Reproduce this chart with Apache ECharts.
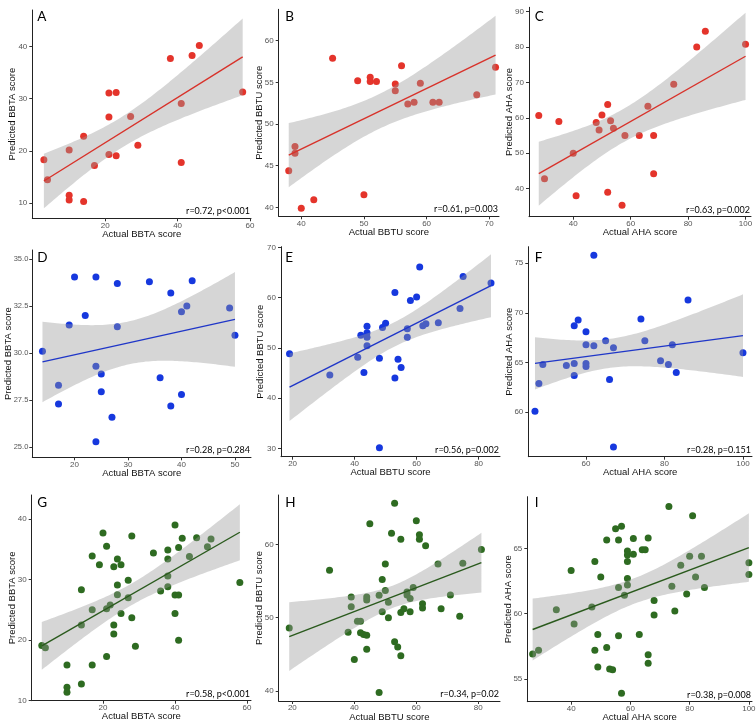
<!DOCTYPE html>
<html><head><meta charset="utf-8">
<script src="https://cdn.jsdelivr.net/npm/echarts@6/dist/echarts.min.js"></script>
<style>html,body{margin:0;padding:0;background:#fff}#c{width:756px;height:727px}</style>
</head><body><div id="c"></div>
<script>
// ---------------- DATA ----------------
const aX = [3,4,10,10,10,14,14,17,21,23,21,21,23,27,29,38,44,46,41,41,58];
const aY = [18.3,14.5,20.2,11.5,10.6,10.3,22.8,17.2,31.1,31.2,26.5,19.3,19.1,26.6,21.1,37.7,38.3,40.2,29.1,17.8,31.3];
const bX = [38,39,39,40,42,45,49,51,51,52,50,55,55,56,57,58,59,61,62,68,71];
const bY = [44.4,47.3,46.5,39.9,40.9,57.9,55.2,55.6,55.1,55.1,41.5,54.8,54.0,57.0,52.4,52.6,54.9,52.6,52.6,53.5,56.8];
const cX = [28,30,35,40,41,48,49,50,52,52,53,54,57,58,63,66,68,68,75,83,86,100];
const cY = [60.7,42.8,59.0,50.0,38.0,58.7,56.6,60.8,63.8,39.0,59.2,57.1,35.3,55.0,55.0,63.3,55.0,44.2,69.5,80.0,84.5,80.8];
const dX = [14,17,17,19,20,22,24,24,24,25,25,27,28,28,34,36,38,38,40,40,41,42,49,50];
const dY = [30.1,28.3,27.3,31.5,34.05,32.0,34.05,29.3,25.3,28.9,27.95,26.6,33.7,31.4,33.8,28.7,33.2,27.2,32.2,27.8,32.5,33.85,32.4,30.95];
const eX = [19,32,41,42,43,44,44,44,44,48,49,50,53,53,54,55,57,57,58,60,61,62,63,67,74,75,84,48];
const eY = [48.8,44.6,48.1,52.5,45.1,54.3,53.0,52.1,50.4,47.9,54.05,54.9,61.0,44.0,47.7,46.1,53.8,52.1,59.4,60.1,66.1,54.4,54.8,55.0,57.8,64.2,62.9,30.1];
const fX = [47,48,49,55,57,57,57,58,60,60,60,60,62,62,65,66,67,67,74,75,79,81,82,83,86,100];
const fY = [60.1,62.9,64.8,64.7,68.7,64.9,63.7,69.3,68.1,66.8,64.9,64.6,75.8,66.7,67.2,63.3,56.5,66.5,69.4,67.2,65.2,64.8,66.8,64.0,71.3,66.0];
const gX = [3,4,10,10,10,14,14,14,17,17,17,19,20,21,21,21,22,23,23,23,24,24,24,25,25,27,27,28,28,29,34,36,38,38,38,38,40,40,40,41,41,41,42,44,46,49,50,58];
const gY = [19.1,18.75,15.9,12.2,11.4,28.3,22.5,12.75,33.9,25.0,15.9,32.45,37.7,35.5,25.2,17.3,25.8,32.1,22.5,21.0,33.4,29.1,27.5,32.45,24.4,29.9,27.0,37.2,23.7,19.0,34.4,28.1,34.9,33.4,30.6,28.8,39.0,27.45,24.4,35.3,27.45,20.0,36.8,33.8,36.9,35.4,36.7,29.5];
const hX = [19,32,38,39,39,40,41,42,42,43,44,44,44,44,45,48,48,49,49,50,50,51,51,52,53,53,54,55,55,55,56,57,57,58,58,59,60,61,61,62,62,63,67,68,71,74,75,81];
const hY = [48.6,56.45,48.0,52.8,51.5,44.3,49.5,49.5,47.95,47.7,47.6,52.8,52.4,45.7,62.8,53.05,39.8,55.2,50.8,57.3,53.7,52.1,50.0,61.5,65.6,46.7,46.0,60.7,50.7,44.8,51.2,53.5,53.1,52.6,50.8,54.1,63.2,61.3,60.7,51.9,51.3,59.8,57.3,51.2,53.1,50.2,57.4,59.3];
const iX = [27,29,35,40,41,47,48,48,49,49,50,52,52,53,54,55,56,56,56,57,57,58,59,59,59,59,59,61,61,63,64,65,66,66,66,68,68,73,74,75,77,79,80,81,82,84,85,100,100];
const iY = [56.9,57.2,60.3,63.3,59.2,60.5,64.0,57.2,58.4,55.9,62.8,65.65,57.4,55.75,55.7,66.5,62.0,58.3,65.65,66.7,53.9,61.4,64.8,64.5,64.0,62.7,62.2,64.55,65.75,58.4,64.9,64.9,65.8,56.85,56.2,61.0,59.9,68.2,62.1,60.2,63.7,61.5,64.4,67.5,62.8,64.4,62.0,63.9,63.0];

const panelLetters = ['A','B','C','D','E','F','G','H','I'];
const statTexts = ['r=0.72, p<0.001','r=0.61, p=0.003','r=0.63, p=0.002',
                   'r=0.28, p=0.284','r=0.56, p=0.002','r=0.28, p=0.151',
                   'r=0.58, p<0.001','r=0.34, p=0.02','r=0.38, p=0.008'];
const xNames = ['Actual BBTA score','Actual BBTU score','Actual AHA score'];
const yNames = ['Predicted BBTA score','Predicted BBTU score','Predicted AHA score'];
const xTickVals = [[20,40,60],[40,50,60,70],[40,60,80,100],
                   [20,30,40,50],[20,40,60,80],[60,80,100],
                   [20,40,60],[20,40,60,80],[40,60,80,100]];
const yTickVals = [[10,20,30,40],[40,45,50,55,60],[40,50,60,70,80,90],
                   [25,27.5,30,32.5,35],[30,40,50,60,70],[60,65,70,75],
                   [10,20,30,40],[40,50,60],[55,60,65]];
const xs = [aX,bX,cX,dX,eX,fX,gX,hX,iX];
const ys = [aY,bY,cY,dY,eY,fY,gY,hY,iY];

// ---------------- LAYOUT / STYLE ----------------
// box: [left, top, right, bottom] in px; ranges: axis extents
const layout = [
  {box:[32.3,10,251,218.3],   xr:[-0.2,60.3], yr:[7.1,47.0], yGap:14.5},
  {box:[278.7,9.3,499,216.3], xr:[36.4,71.55], yr:[38.92,63.77], yGap:14},
  {box:[529,7.3,751,216.7],   xr:[24.6,101.9], yr:[32.09,91.24], yGap:14.5},
  {box:[32.3,250,251,457.3],  xr:[12.1,53.0], yr:[24.47,35.48], yGap:18.5},
  {box:[281,246.7,500,456.7], xr:[16.25,86.9], yr:[28.33,70.12], yGap:15.5},
  {box:[528.3,246.7,752,456.7], xr:[45.3,102.3], yr:[55.53,76.67], yGap:14},
  {box:[31.7,495,251,700.7],  xr:[0.2,61.1], yr:[10.0,43.96], yGap:14.5},
  {box:[278.7,495,500,701],   xr:[15.6,87.0], yr:[38.64,66.72], yGap:14},
  {box:[527.3,496.7,752,701.7], xr:[25.2,101.05], yr:[53.25,68.96], yGap:13.5}
];
const colors = [
  {pt:'#e4342b', ln:'#d8322a'},
  {pt:'#1638de', ln:'#1f36c8'},
  {pt:'#2e6b21', ln:'#2a5a1d'}
];
const FONT = '"Liberation Sans", Arial, sans-serif';

// ---------------- STATS (lm + 95% CI like geom_smooth) ----------------
function tq975(df){
  const z=1.959964, z3=z*z*z, z5=z3*z*z, z7=z5*z*z;
  return z + (z3+z)/(4*df) + (5*z5+16*z3+3*z)/(96*df*df) + (3*z7+19*z5+17*z3-15*z)/(384*df*df*df);
}
function fit(x,y){
  const n=x.length; let mx=0,my=0;
  for(let i=0;i<n;i++){mx+=x[i];my+=y[i];} mx/=n; my/=n;
  let sxx=0,sxy=0; for(let i=0;i<n;i++){sxx+=(x[i]-mx)**2; sxy+=(x[i]-mx)*(y[i]-my);}
  const b=sxy/sxx, a=my-b*mx;
  let sse=0; for(let i=0;i<n;i++){sse+=(y[i]-a-b*x[i])**2;}
  const s=Math.sqrt(sse/(n-2)), t=tq975(n-2);
  const x0=Math.min(...x), x1=Math.max(...x);
  const up=[], lo=[], N=80;
  for(let k=0;k<=N;k++){
    const xv=x0+(x1-x0)*k/N, yh=a+b*xv;
    const se=s*Math.sqrt(1/n+(xv-mx)**2/sxx);
    up.push([xv,yh+t*se]); lo.push([xv,yh-t*se]);
  }
  return {a,b,x0,x1,up,lo};
}

const grids=[], xAxes=[], yAxes=[], series=[], graphics=[];
for(let p=0;p<9;p++){
  const L=layout[p], [l,t,r,btm]=L.box, col=p%3, row=Math.floor(p/3);
  const c=colors[row];
  grids.push({left:l, top:t, width:r-l, height:btm-t, containLabel:false, outerBoundsMode:'none'});
  const isD = p===3;
  xAxes.push({type:'value', gridIndex:p, min:L.xr[0], max:L.xr[1],
    axisLine:{show:true, onZero:false, lineStyle:{color:'#222', width:1}},
    axisTick:{show:true, length:3, customValues:xTickVals[p], lineStyle:{color:'#333', width:1}},
    axisLabel:{show:true, customValues:xTickVals[p], color:'#555', fontSize:8, margin:3, fontFamily:FONT},
    splitLine:{show:false},
    name:xNames[col], nameLocation:'middle', nameGap:11, nameMoveOverlap:false,
    nameTextStyle:{fontSize:9.5, color:'#111', fontFamily:FONT}
  });
  yAxes.push({type:'value', gridIndex:p, min:L.yr[0], max:L.yr[1],
    axisLine:{show:true, onZero:false, lineStyle:{color:'#222', width:1}},
    axisTick:{show:true, length:3, customValues:yTickVals[p], lineStyle:{color:'#333', width:1}},
    axisLabel:{show:true, customValues:yTickVals[p], color:'#555', fontSize:isD?7.5:8, margin:isD?4:5, fontFamily:FONT,
      formatter: v => isD ? Number(v).toFixed(1) : String(v)},
    splitLine:{show:false},
    name:yNames[col], nameLocation:'middle', nameGap:L.yGap, nameMoveOverlap:false,
    nameTextStyle:{fontSize:9.5, color:'#111', fontFamily:FONT}
  });
  const F=fit(xs[p],ys[p]);
  series.push({type:'scatter', xAxisIndex:p, yAxisIndex:p, z:2, symbolSize:7,
    itemStyle:{color:c.pt, opacity:1}, data:xs[p].map((v,i)=>[v,ys[p][i]]), silent:true});
  series.push({type:'custom', xAxisIndex:p, yAxisIndex:p, z:3, silent:true, clip:true,
    data:[[F.x0, F.a+F.b*F.x0]],
    renderItem:(params,api)=>{
      const pts=F.up.map(q=>api.coord(q)).concat(F.lo.slice().reverse().map(q=>api.coord(q)));
      return {type:'polygon', shape:{points:pts}, style:{fill:'rgba(153,153,153,0.4)'}};
    }});
  series.push({type:'line', xAxisIndex:p, yAxisIndex:p, z:4, symbol:'none', silent:true,
    lineStyle:{color:c.ln, width:1.4},
    data:[[F.x0, F.a+F.b*F.x0],[F.x1, F.a+F.b*F.x1]]});
  const letterX=[37.3,285.3,534.7][col], letterY=[16.2,258,503][row];
  graphics.push({type:'text', x:letterX, y:letterY, silent:true,
    style:{text:panelLetters[p], font:'13.5px Lato', fill:'#000', textAlign:'left', textVerticalAlign:'middle'}});
  graphics.push({type:'text', x:r-1, y:btm-7, silent:true,
    style:{text:statTexts[p], font:'9px Lato', fill:'#000', textAlign:'right', textVerticalAlign:'middle'}});
}

const chart=echarts.init(document.getElementById('c'),null,{renderer:'canvas'});
chart.setOption({animation:false, backgroundColor:'#fff',
  grid:grids, xAxis:xAxes, yAxis:yAxes, series:series, graphic:graphics});
</script></body></html>
